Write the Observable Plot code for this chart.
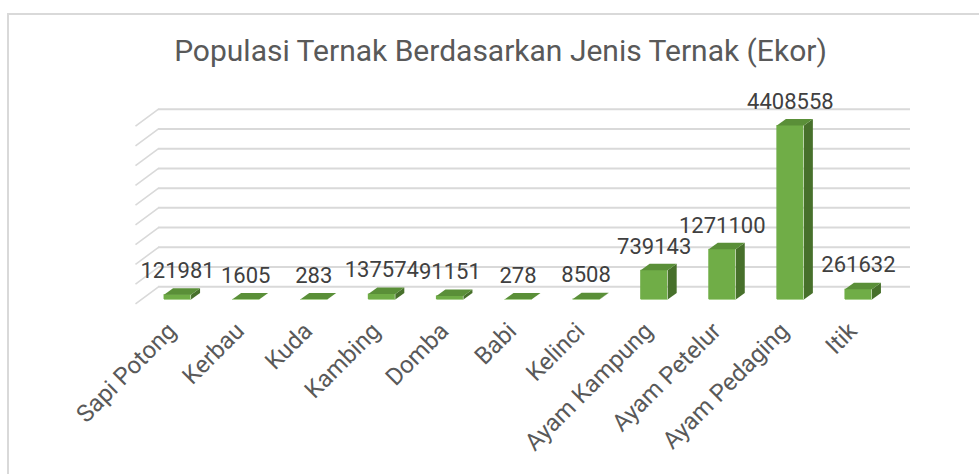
<!DOCTYPE html>
<html><head><meta charset="utf-8">
<script src="https://cdn.jsdelivr.net/npm/d3@7"></script>
<script src="https://cdn.jsdelivr.net/npm/@observablehq/plot@0.6"></script>
<style>
body{margin:0;background:#fff;overflow:hidden}
#wrap{position:relative;width:979px;height:474px;overflow:hidden}
#frame{position:absolute;left:7px;top:13px;width:1100px;height:600px;border-left:2px solid #d9d9d9;border-top:2px solid #d9d9d9}
#title{position:absolute;left:0;top:36px;width:1001px;text-align:center;font-family:Roboto;font-size:30px;line-height:30px;color:#595959;white-space:nowrap}
#chart{position:absolute;left:0;top:0}
</style></head><body>
<div id="wrap"><div id="frame"></div><div id="chart"></div><div id="title">Populasi Ternak Berdasarkan Jenis Ternak (Ekor)</div></div>
<script>
const categories = ["Sapi Potong","Kerbau","Kuda","Kambing","Domba","Babi","Kelinci","Ayam Kampung","Ayam Petelur","Ayam Pedaging","Itik"];
const values = [121981,1605,283,137574,91151,278,8508,739143,1271100,4408558,261632];
const gridValues = [0,500000,1000000,1500000,2000000,2500000,3000000,3500000,4000000,4500000];

// layout constants (pixels)
const W = 979, H = 474;
const X_RANGE = [143, 892];
const Y_BASE = 299, Y_TOP = 121.4;
const Y_MAX = 4500000;
const pxPerIndex = (X_RANGE[1] - X_RANGE[0]) / categories.length;
const valPerPx = Y_MAX / (Y_BASE - Y_TOP);
const half = 13.5 / pxPerIndex;
const dX = 9 / pxPerIndex, dY = 6.5 * valPerPx;
const toIdx = px => (px - X_RANGE[0]) / pxPerIndex - 0.5;
const backLeft = toIdx(158), backRight = toIdx(910), frontLeft = toIdx(135);
const wallShift = 12.7 * valPerPx, diagDrop = 17 * valPerPx;

const rows = categories.map((c, i) => ({i, c, v: values[i]}));
const topFaces = rows.flatMap(r => [
  [r.i - half, r.v], [r.i + half, r.v], [r.i + half + dX, r.v + dY], [r.i - half + dX, r.v + dY]
].map(([x, y]) => ({key: r.c, x, y})));
const sideFaces = rows.flatMap(r => [
  [r.i + half, 0], [r.i + half + dX, dY], [r.i + half + dX, r.v + dY], [r.i + half, r.v]
].map(([x, y]) => ({key: r.c, x, y})));

const chart = Plot.plot({
  width: W, height: H,
  marginLeft: X_RANGE[0], marginRight: W - X_RANGE[1],
  marginTop: Y_TOP, marginBottom: H - Y_BASE,
  x: {domain: [-0.5, categories.length - 0.5], axis: null},
  y: {domain: [0, Y_MAX], axis: null},
  style: {fontFamily: "Roboto", background: "transparent", overflow: "visible"},
  marks: [
    Plot.ruleY(gridValues, {y: d => d + wallShift, x1: () => backLeft, x2: () => backRight, stroke: "#d9d9d9", strokeWidth: 2}),
    Plot.link(gridValues, {x1: () => backLeft, y1: d => d + wallShift, x2: () => frontLeft, y2: d => d + wallShift - diagDrop, stroke: "#d9d9d9", strokeWidth: 1.6}),
    Plot.line(sideFaces, {x: "x", y: "y", z: "key", fill: "#47702b", stroke: "none", curve: "linear"}),
    Plot.rect(rows, {x1: d => d.i - half, x2: d => d.i + half, y1: 0, y2: "v", fill: "#70ad47"}),
    Plot.line(topFaces, {x: "x", y: "y", z: "key", fill: "#5a8f38", stroke: "none", curve: "linear"}),
    Plot.link(rows, {x1: d => d.i - half, x2: d => d.i + half, y1: 0, y2: 0, stroke: "#a9d18e", strokeWidth: 1}),
    Plot.text(rows, {x: "i", y: "v", text: d => String(d.v), lineAnchor: "bottom", dy: -16.7, fontSize: 22, fill: "#404040"}),
    Plot.text(rows, {x: "i", y: () => 0, text: "c", rotate: -45, textAnchor: "end", lineAnchor: "bottom", dy: 33, fontSize: 24, fill: "#595959"})
  ]
});
document.getElementById("chart").appendChild(chart);
</script>
</body></html>
